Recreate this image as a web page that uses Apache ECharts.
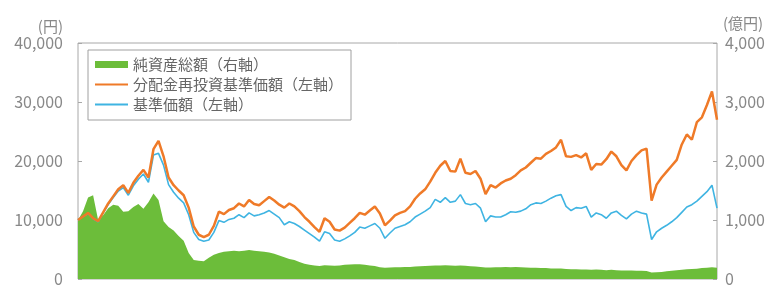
<!DOCTYPE html>
<html>
<head>
<meta charset="utf-8">
<script src="https://cdn.jsdelivr.net/npm/echarts@6/dist/echarts.min.js"></script>
<style>
  html, body { margin: 0; padding: 0; background: #fff; }
  #chart { width: 773px; height: 287px; }
</style>
</head>
<body>
<div id="chart"></div>
<script>
// 分配金再投資基準価額（円）
const reinvestNav = [
  10000, 10600, 11200, 10300, 9800, 11300, 12800, 14000, 15200, 15900,
  14600, 16300, 17500, 18500, 17200, 22000, 23400, 20800, 17200, 15900,
  15000, 14200, 12100, 8900, 7500, 7100, 7500, 9000, 11400, 11000,
  11700, 12000, 12800, 12300, 13400, 12700, 12500, 13200, 13900, 13300,
  12600, 12100, 12800, 12300, 11500, 10500, 9700, 8800, 8000, 10300,
  9700, 8400, 8200, 8700, 9500, 10300, 11200, 10900, 11600, 12300,
  11100, 9100, 9900, 10800, 11200, 11500, 12300, 13600, 14500, 15200,
  16500, 18000, 19200, 20000, 18300, 18200, 20400, 18000, 17800, 18300,
  17000, 14400, 15900, 15500, 16200, 16700, 17000, 17600, 18400, 18900,
  19700, 20500, 20400, 21200, 21700, 22300, 23600, 20800, 20700, 21000,
  20600, 21300, 18500, 19500, 19400, 20300, 21600, 20800, 19300, 18400,
  20000, 21000, 21800, 22100, 13300, 16000, 17200, 18200, 19200, 20200,
  22800, 24500, 23600, 26600, 27400, 29500, 31800, 27000
]

// 基準価額（円）
const nav = [
  10000, 10600, 11100, 10200, 9700, 11200, 12600, 13800, 14900, 15500,
  14200, 15800, 16900, 17800, 16400, 21000, 21300, 19300, 16000, 14700,
  13700, 12900, 10900, 7900, 6700, 6400, 6600, 7900, 9900, 9600,
  10100, 10300, 10900, 10400, 11200, 10700, 10900, 11200, 11600, 11000,
  10400, 9200, 9700, 9400, 8900, 8300, 7700, 7100, 6400, 8000,
  7700, 6600, 6400, 6800, 7300, 7900, 8800, 8600, 9000, 9400,
  8600, 6900, 7800, 8600, 8900, 9200, 9700, 10500, 11000, 11500,
  12100, 13500, 13000, 13800, 13000, 13200, 14300, 12800, 12600, 12800,
  12000, 9700, 10700, 10500, 10500, 10900, 11400, 11300, 11500, 11900,
  12600, 12900, 12800, 13200, 13700, 14100, 14300, 12300, 11600, 12100,
  12000, 12300, 10500, 11200, 10900, 10300, 11200, 11500, 10800, 10200,
  11000, 11500, 11200, 11000, 6700, 8000, 8600, 9100, 9700, 10400,
  11300, 12200, 12600, 13200, 14000, 14800, 15900, 12000
]

// 純資産総額（億円）
const netAssets = [
  1000, 1150, 1380, 1420, 1000, 1080, 1200, 1260, 1240, 1140,
  1150, 1220, 1270, 1190, 1300, 1450, 1340, 980, 880, 820,
  730, 650, 440, 320, 310, 300, 360, 410, 440, 460,
  470, 480, 470, 480, 490, 480, 470, 460, 450, 430,
  400, 370, 340, 320, 290, 260, 240, 230, 220, 235,
  230, 225, 230, 240, 245, 250, 250, 240, 230, 220,
  200, 190, 195, 200, 200, 205, 205, 210, 215, 220,
  225, 230, 230, 235, 230, 225, 230, 225, 215, 210,
  205, 195, 195, 200, 200, 205, 200, 205, 200, 195,
  190, 190, 185, 185, 180, 180, 180, 170, 165, 165,
  160, 160, 155, 160, 155, 150, 155, 150, 145, 145,
  145, 140, 140, 135, 110, 115, 120, 130, 140, 150,
  155, 165, 170, 175, 185, 190, 200, 190
]

const dates = nav.map((v, i) => i)

const fmt = (v) => v.toLocaleString('en-US')

// 凡例の線アイコン（細いバー）
const lineIcon = 'path://M0,0L33,0L33,2L0,2Z'

const chart = echarts.init(document.getElementById('chart'))

const option = {
  animation: false,
  textStyle: { fontFamily: 'Noto Sans CJK JP' },
  grid: {
    left: 78,
    right: 56,
    top: 43,
    bottom: 0,
    show: true,
    borderColor: '#a8a8a8',
    borderWidth: 1
  },
  legend: {
    orient: 'vertical',
    left: 88,
    top: 50,
    padding: [7, 8, 8, 7],
    itemGap: 5,
    itemWidth: 33,
    itemHeight: 7,
    symbolKeepAspect: true,
    borderColor: '#a0a0a0',
    borderWidth: 1,
    textStyle: { color: '#666', fontSize: 15, lineHeight: 15 },
    data: [
      { name: '純資産総額（右軸）', icon: 'rect' },
      { name: '分配金再投資基準価額（左軸）', icon: lineIcon },
      { name: '基準価額（左軸）', icon: lineIcon }
    ]
  },
  xAxis: {
    type: 'category',
    data: dates,
    boundaryGap: false,
    axisLine: { show: false },
    axisTick: { show: false },
    axisLabel: { show: false }
  },
  yAxis: [
    {
      type: 'value',
      min: 0,
      max: 40000,
      interval: 10000,
      name: '(円)',
      nameLocation: 'end',
      nameGap: 9,
      nameTextStyle: { color: '#888', fontSize: 15, align: 'right', padding: [0, 15, 0, 0] },
      axisLine: { show: false },
      axisTick: { show: true, inside: true, length: 4, lineStyle: { color: '#a8a8a8' } },
      splitLine: { show: false },
      axisLabel: { color: '#888', fontSize: 16, margin: 15, formatter: fmt }
    },
    {
      type: 'value',
      min: 0,
      max: 4000,
      interval: 1000,
      name: '(億円)',
      nameLocation: 'end',
      nameGap: 12,
      nameTextStyle: { color: '#888', fontSize: 15, align: 'left', padding: [0, 0, 0, 6] },
      axisLine: { show: false },
      axisTick: { show: true, inside: true, length: 4, lineStyle: { color: '#a8a8a8' } },
      splitLine: { show: false },
      axisLabel: { color: '#888', fontSize: 16, margin: 8, formatter: fmt }
    }
  ],
  series: [
    {
      name: '純資産総額（右軸）',
      type: 'line',
      yAxisIndex: 1,
      data: netAssets,
      symbol: 'none',
      lineStyle: { width: 0 },
      itemStyle: { color: '#6cbd3a' },
      areaStyle: { color: '#6cbd3a', opacity: 1 }
    },
    {
      name: '基準価額（左軸）',
      type: 'line',
      data: nav,
      symbol: 'none',
      lineStyle: { width: 1.6, color: '#3fb4e2' },
      itemStyle: { color: '#3fb4e2' }
    },
    {
      name: '分配金再投資基準価額（左軸）',
      type: 'line',
      data: reinvestNav,
      symbol: 'none',
      lineStyle: { width: 2.5, color: '#ef7a28' },
      itemStyle: { color: '#ef7a28' }
    }
  ]
}

chart.setOption(option)
</script>
</body>
</html>
